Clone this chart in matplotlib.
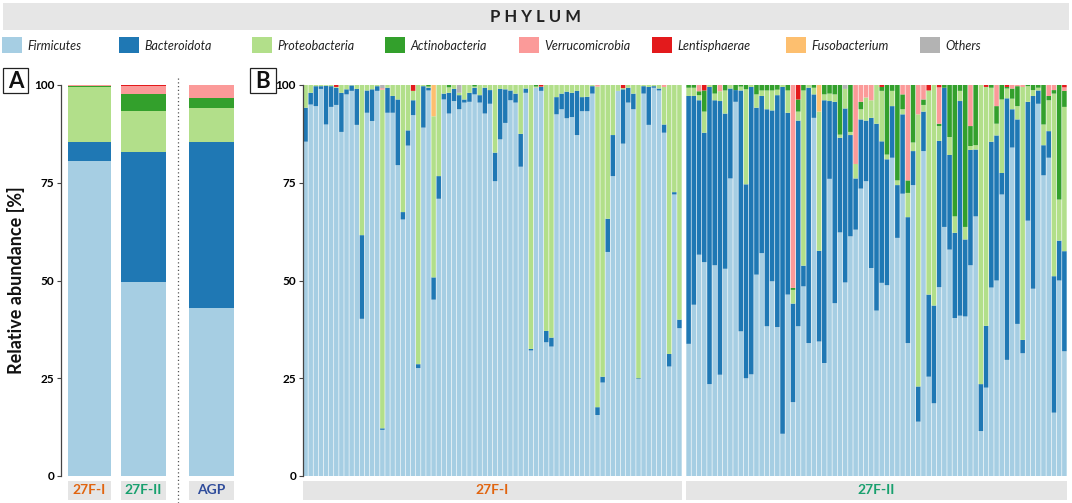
import matplotlib
matplotlib.use("Agg")
import matplotlib.pyplot as plt
import numpy as np
from matplotlib.patches import Rectangle
from matplotlib.lines import Line2D

plt.rcParams['font.family'] = ['Lato', 'DejaVu Sans']

# ---------------- data ----------------
phyla = ["Firmicutes", "Bacteroidota", "Proteobacteria", "Actinobacteria",
         "Verrucomicrobia", "Lentisphaerae", "Fusobacterium", "Others"]
colors = ["#a6cee3", "#1f78b4", "#b2df8a", "#33a02c",
          "#fb9a99", "#e31a1c", "#fdbf6f", "#b3b3b3"]

# Panel A: group means (bottom -> top, in phyla order)
groupsA = ["27F-I", "27F-II", "AGP"]
groupA_colors = ["#e1640f", "#18a06e", "#2f4c9b"]
meanA = {
    "27F-I":  [80.6, 4.9, 14.1, 0.1, 0.2, 0.1, 0.0, 0.0],
    "27F-II": [49.5, 33.3, 10.6, 4.2, 2.1, 0.3, 0.0, 0.0],
    "AGP":    [43.0, 42.5, 8.6, 2.7, 3.2, 0.0, 0.0, 0.0],
}

# Panel B, group 27F-I (74 samples)
firm_I = [85.5, 95.0, 94.6, 99.0, 89.9, 94.4, 94.9, 88.0, 97.6, 98.5,
          89.8, 40.2, 92.9, 90.8, 98.5, 11.8, 92.9, 92.9, 79.5, 65.6,
          84.5, 92.3, 27.6, 89.1, 98.6, 45.1, 70.9, 96.3, 92.7, 95.9,
          93.8, 95.5, 95.7, 97.6, 95.5, 92.7, 95.2, 75.4, 86.1, 90.3,
          96.1, 95.5, 79.1, 98.0, 32.1, 99.3, 98.5, 34.2, 33.1, 92.5,
          93.8, 91.5, 91.8, 87.2, 93.3, 93.3, 97.8, 15.6, 23.9, 57.3,
          76.7, 98.5, 85.0, 95.5, 93.8, 24.8, 97.8, 89.8, 99.3, 98.6,
          87.8, 28.0, 72.0, 37.8]
bact_I = [8.7, 3.0, 5.1, 0.7, 9.9, 5.3, 4.4, 10.0, 1.3, 1.4,
          9.2, 21.4, 5.7, 8.1, 1.2, 0.4, 6.4, 4.3, 16.8, 1.9,
          3.9, 3.8, 1.0, 10.6, 0.7, 5.7, 5.8, 1.5, 5.3, 3.1,
          3.6, 0.8, 2.3, 1.7, 1.9, 6.6, 3.5, 7.3, 12.9, 8.6,
          2.5, 2.3, 8.4, 1.1, 0.4, 0.0, 1.0, 2.9, 2.3, 4.4,
          4.0, 6.8, 6.2, 11.3, 3.6, 3.7, 1.9, 2.0, 1.5, 8.5,
          10.5, 0.0, 13.9, 3.8, 4.0, 0.2, 1.9, 9.7, 0.4, 0.5,
          2.1, 3.2, 0.6, 2.2]
prot_I = [5.8, 2.0, 0.3, 0.3, 0.2, 0.3, 0.2, 2.0, 1.1, 0.1,
          1.0, 38.4, 1.4, 1.1, 0.3, 86.6, 0.7, 2.8, 3.7, 32.5,
          11.6, 2.4, 71.4, 0.3, 0.3, 41.2, 23.3, 2.2, 1.4, 1.0,
          0.6, 3.7, 2.0, 0.3, 2.6, 0.7, 1.3, 17.3, 1.0, 1.1,
          1.4, 2.2, 12.5, 0.9, 67.5, 0.3, 0.1, 62.9, 64.6, 3.1,
          2.2, 1.7, 2.0, 1.5, 3.1, 3.0, 0.3, 82.0, 74.6, 34.2,
          12.8, 1.5, 0.3, 0.7, 2.2, 75.0, 0.3, 0.5, 0.3, 0.9,
          9.6, 68.8, 27.4, 60.0]
acti_I = {24: 0.4, 28: 0.6, 33: 0.4, 45: 0.4}
verr_I = {15: 0.4, 57: 0.4, 70: 0.5}
lent_I = {6: 0.5, 21: 1.5, 46: 0.4, 62: 0.8}
fuso_I = {25: 8.0}
oth_I = {15: 0.8, 30: 2.0}

# Panel B, group 27F-II (73 samples)
firm_II = [33.8, 43.8, 56.6, 54.7, 23.5, 53.9, 25.9, 53.0, 76.1, 95.7,
           37.0, 25.0, 26.0, 51.5, 57.0, 38.3, 49.8, 38.1, 10.8, 46.4,
           18.9, 38.3, 48.5, 34.0, 91.6, 34.4, 28.9, 76.0, 44.2, 62.3,
           49.5, 61.3, 63.0, 73.5, 75.4, 53.2, 42.3, 49.4, 48.8, 81.4,
           60.9, 72.2, 34.0, 74.4, 13.9, 83.1, 25.4, 18.6, 48.3, 63.7,
           57.9, 40.4, 41.0, 40.8, 53.9, 66.4, 11.5, 22.6, 48.2, 50.0,
           72.0, 29.7, 84.0, 38.9, 31.4, 65.3, 47.9, 95.2, 76.9, 81.4,
           16.2, 50.0, 31.9]
bact_II = [63.4, 53.4, 39.5, 33.1, 76.0, 42.2, 70.0, 39.7, 23.0, 3.0,
           61.6, 49.6, 73.5, 42.7, 40.2, 55.5, 43.7, 59.3, 88.7, 46.5,
           25.2, 52.6, 5.3, 65.3, 6.0, 23.2, 67.2, 19.9, 51.5, 24.2,
           44.5, 25.9, 13.1, 17.7, 15.5, 38.4, 47.8, 36.2, 32.2, 13.2,
           13.5, 20.3, 32.2, 8.7, 9.0, 10.1, 21.0, 25.0, 37.4, 35.6,
           24.2, 21.8, 54.9, 19.7, 29.5, 17.1, 12.0, 15.8, 37.3, 37.1,
           5.5, 66.9, 9.8, 52.3, 3.4, 30.4, 49.3, 3.4, 7.7, 6.8,
           34.9, 10.2, 25.6]
prot_II = [2.1, 2.1, 1.3, 5.4, 0.5, 1.7, 2.5, 5.9, 0.9, 0.0,
           1.0, 24.3, 0.5, 3.4, 1.4, 4.8, 5.1, 1.4, 0.5, 5.7,
           3.5, 2.3, 44.8, 0.7, 1.7, 35.6, 1.5, 1.9, 1.9, 0.8,
           5.0, 0.8, 3.7, 2.6, 5.9, 4.5, 9.9, 12.9, 1.2, 3.9,
           1.2, 1.3, 6.2, 2.2, 69.6, 1.7, 52.2, 56.4, 3.8, 0.0,
           4.6, 4.2, 2.6, 3.2, 1.0, 1.1, 76.5, 61.1, 13.8, 3.0,
           18.8, 2.5, 2.7, 3.4, 64.7, 4.0, 1.5, 0.7, 5.3, 7.9,
           46.7, 10.5, 36.9]
acti_II = [0.7, 0.7, 1.0, 5.4, 0.0, 2.2, 0.0, 1.4, 0.0, 1.3,
           0.4, 1.1, 0.0, 2.4, 1.4, 1.4, 1.4, 1.2, 0.0, 1.4,
           0.5, 3.1, 1.4, 0.0, 0.7, 0.0, 2.4, 2.2, 2.4, 12.7,
           0.0, 12.0, 0.0, 1.9, 0.0, 0.0, 0.0, 1.0, 17.8, 1.5,
           24.4, 3.8, 3.2, 14.7, 0.0, 1.4, 0.0, 0.0, 0.6, 0.7,
           13.3, 33.6, 1.5, 36.3, 5.1, 15.4, 0.0, 0.0, 0.7, 4.5,
           3.7, 0.4, 2.6, 5.1, 0.0, 0.3, 1.3, 0.7, 10.1, 1.1,
           0.9, 29.3, 4.1]
verr_II = {2: 1.6, 6: 1.6, 20: 51.9, 32: 20.2, 33: 4.3, 34: 3.2, 35: 3.9,
           41: 2.4, 42: 24.4, 44: 7.5, 45: 3.7, 48: 9.3, 54: 10.5, 59: 5.4,
           62: 0.9, 63: 0.3, 64: 0.5, 69: 2.8, 70: 1.4, 72: 0.9}
lent_II = {3: 1.4, 21: 3.7, 37: 0.5, 46: 1.4, 48: 0.6, 57: 0.5, 61: 0.5, 72: 0.6}
fuso_II = {25: 6.8}
oth_II = {30: 1.0}

yticks = [0, 25, 50, 75, 100]


def dense(d, n):
    a = np.zeros(n)
    for k, v in d.items():
        a[k] = v
    return a


nI, nII = len(firm_I), len(firm_II)
stack_I = [np.array(firm_I), np.array(bact_I), np.array(prot_I), dense(acti_I, nI),
           dense(verr_I, nI), dense(lent_I, nI), dense(fuso_I, nI), dense(oth_I, nI)]
stack_II = [np.array(firm_II), np.array(bact_II), np.array(prot_II), np.array(acti_II),
            dense(verr_II, nII), dense(lent_II, nII), dense(fuso_II, nII), dense(oth_II, nII)]

# ---------------- figure ----------------
W, H = 1072, 503
fig = plt.figure(figsize=(W / 100, H / 100), dpi=100)


def add_ax(x0, x1, y0, y1):
    return fig.add_axes([x0 / W, 1 - y1 / H, (x1 - x0) / W, (y1 - y0) / H])


def rect(x0, y0, x1, y1, **kw):
    fig.add_artist(Rectangle((x0 / W, 1 - y1 / H), (x1 - x0) / W, (y1 - y0) / H,
                             transform=fig.transFigure, **kw))


# title strip
rect(3, 3, 1069, 30, facecolor="#e6e6e6", edgecolor="none")
fig.text(536 / W, 1 - 17 / H, "P H Y L U M", ha="center", va="center",
         fontsize=12, fontweight="bold", color="#222222")

# legend
legend_x = [2, 119, 252, 385, 519, 652, 786, 920]
for x, name, col in zip(legend_x, phyla, colors):
    rect(x, 37, x + 20, 53, facecolor=col, edgecolor="none")
    fig.text((x + 25) / W, 1 - 45.5 / H, name, ha="left", va="center",
             fontsize=9, fontstyle="italic", color="#222222")

TOP, BOT = 85, 476
tick_kw = dict(labelsize=8.5, length=3, width=0.8, color="#444444", pad=2)


def style_axis(ax, show_left, outward=0):
    for s in ["top", "right", "bottom", "left"]:
        ax.spines[s].set_visible(False)
    ax.set_ylim(0, 100)
    ax.set_xticks([])
    if show_left:
        ax.spines["left"].set_visible(True)
        ax.spines["left"].set_color("#444444")
        ax.spines["left"].set_linewidth(0.9)
        ax.spines["left"].set_position(("outward", outward))
        ax.set_yticks(yticks)
        ax.set_yticklabels([str(t) for t in yticks], fontweight="bold")
        ax.tick_params(axis="y", **tick_kw)
    else:
        ax.set_yticks([])


def strip(x0, x1, label, col):
    sax = add_ax(x0, x1, 481, 500)
    sax.set_facecolor("#e5e5e5")
    for s in sax.spines.values():
        s.set_visible(False)
    sax.set_xticks([])
    sax.set_yticks([])
    sax.text(0.5, 0.5, label, ha="center", va="center", transform=sax.transAxes,
             fontsize=10, fontweight="bold", color=col)


# Panel A
posA = [(68, 111), (121, 166), (189, 234)]
for j, (g, (x0, x1)) in enumerate(zip(groupsA, posA)):
    ax = add_ax(x0, x1, TOP, BOT)
    vals = meanA[g]
    bottom = 0.0
    for v, c in zip(vals, colors):
        ax.bar([0], [v], bottom=bottom, width=1.0, color=c, edgecolor="none")
        bottom += v
    ax.set_xlim(-0.5, 0.5)
    style_axis(ax, j == 0, outward=5)
    strip(x0, x1, g, groupA_colors[j])

# Panel B
posB = [(303, 682), (686, 1067)]
stacks = [stack_I, stack_II]
for j, (g, (x0, x1)) in enumerate(zip(groupsA[:2], posB)):
    ax = add_ax(x0, x1, TOP, BOT)
    st = stacks[j]
    n = len(st[0])
    xs = np.arange(n)
    bottom = np.zeros(n)
    for v, c in zip(st, colors):
        bars = ax.bar(xs, v, bottom=bottom, width=0.88, color=c, edgecolor="none")
        for b in bars:
            b.set_snap(False)
        bottom += v
    ax.set_xlim(-0.5, n - 0.5)
    style_axis(ax, j == 0, outward=0)
    strip(x0, x1, g, groupA_colors[j])

# y label
fig.text(16 / W, 1 - 280 / H, "Relative abundance [%]", rotation=90, ha="center",
         va="center", fontsize=13, fontweight="bold", color="#111111")

# dotted separator
fig.add_artist(Line2D([178 / W, 178 / W], [1 - 78 / H, 0], transform=fig.transFigure,
                      linestyle=(0, (1, 2)), color="#555555", linewidth=0.9))

# panel letters
for lab, x0, x1 in [("A", 3, 28), ("B", 250, 276)]:
    rect(x0, 68, x1, 93, facecolor="white", edgecolor="#222222", linewidth=0.9)
    fig.text((x0 + x1) / 2 / W, 1 - 81 / H, lab, ha="center", va="center",
             fontsize=16, fontweight="bold", color="#111111")

fig.savefig("out.png", dpi=100)
